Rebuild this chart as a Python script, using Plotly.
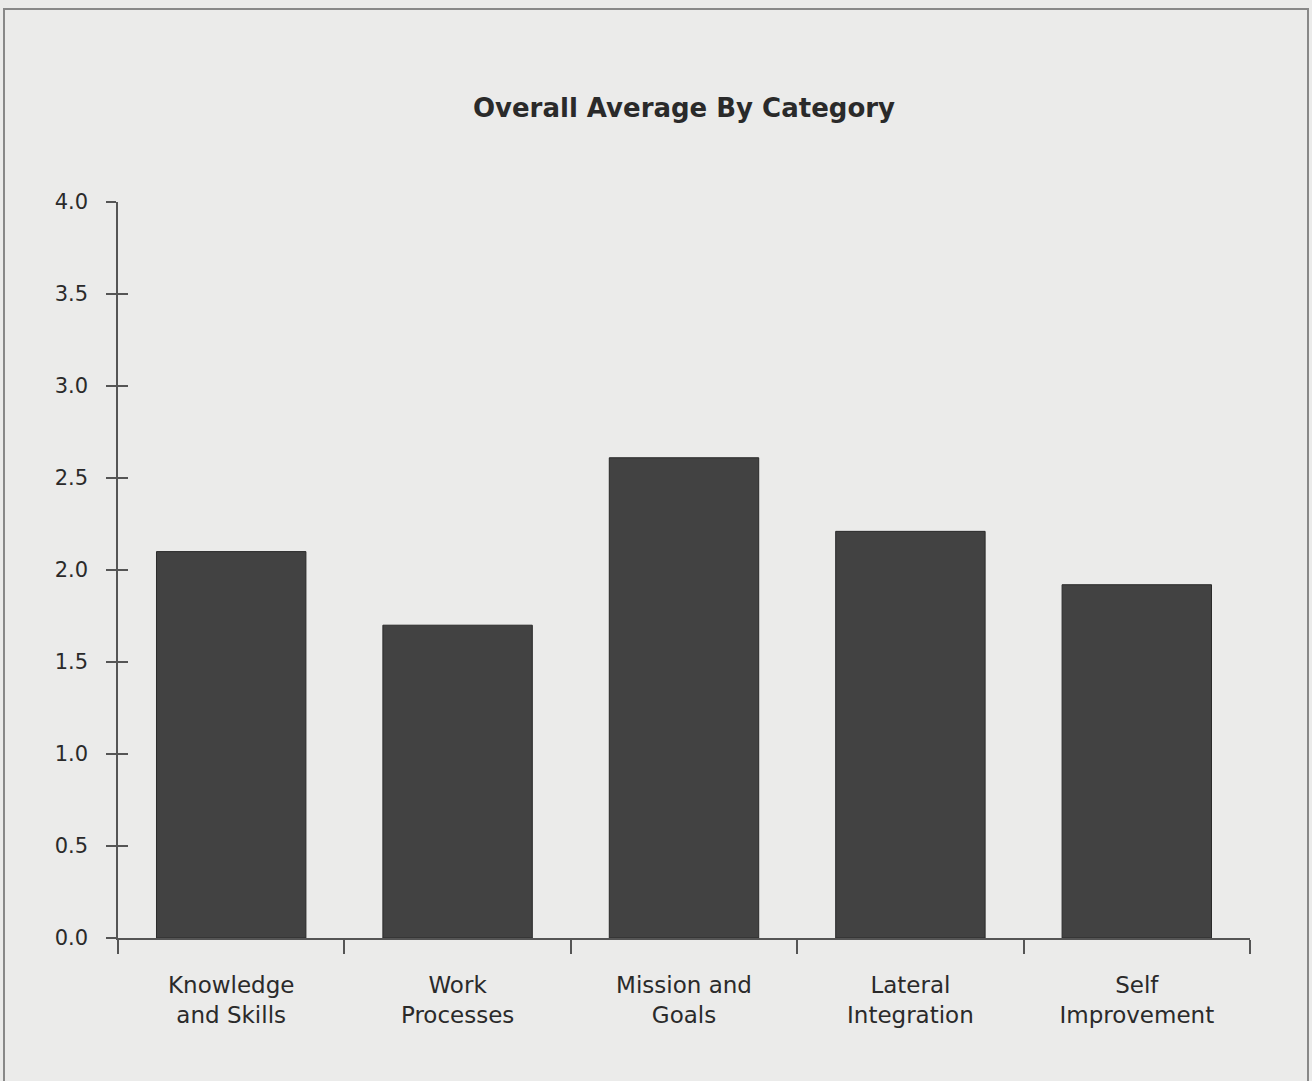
import plotly.graph_objects as go

categories = ["Knowledge<br>and Skills", "Work<br>Processes", "Mission and<br>Goals",
              "Lateral<br>Integration", "Self<br>Improvement"]
values = [2.10, 1.70, 2.61, 2.21, 1.92]
y_ticks = [0.0, 0.5, 1.0, 1.5, 2.0, 2.5, 3.0, 3.5, 4.0]
y_tick_labels = ["0.0", "0.5", "1.0", "1.5", "2.0", "2.5", "3.0", "3.5", "4.0"]

FONT = "DejaVu Sans, Liberation Sans, Arial, sans-serif"
BG = "#ebebea"
INK = "#2a2a2a"

fig = go.Figure()
fig.add_trace(go.Bar(
    x=categories, y=values,
    marker=dict(color="#424242", line=dict(color="#2a2a2a", width=1)),
    width=0.66,
))

fig.update_layout(
    width=1312, height=1081,
    margin=dict(l=118, r=62, t=202, b=143),
    paper_bgcolor=BG, plot_bgcolor=BG,
    showlegend=False,
    font=dict(family=FONT, color=INK),
    title=dict(text="<b>Overall Average By Category</b>", x=0.5, xref="paper",
               y=1 - 108 / 1081, yanchor="middle",
               font=dict(size=26, family=FONT, color=INK)),
    xaxis=dict(
        showline=True, linecolor="#555", linewidth=1.5,
        ticks="outside", ticklen=14, tickcolor="#555", tickwidth=1.5,
        tickson="boundaries", showgrid=False, zeroline=False,
        tickfont=dict(size=23, family=FONT, color=INK),
        ticklabelstandoff=26,
    ),
    yaxis=dict(
        range=[0, 4.0], tickvals=y_ticks, ticktext=y_tick_labels,
        showline=True, linecolor="#555", linewidth=1.5,
        ticks="outside", ticklen=10, tickcolor="#555", tickwidth=1.5,
        showgrid=False, zeroline=False,
        tickfont=dict(size=21, family=FONT, color=INK),
        ticklabelstandoff=14,
    ),
    yaxis2=dict(
        range=[0, 4.0], tickvals=y_ticks, overlaying="y", side="left",
        ticks="inside", ticklen=10, tickcolor="#555", tickwidth=1.5,
        showticklabels=False, showgrid=False, zeroline=False, showline=False,
    ),
)

fig.add_trace(go.Scatter(x=[categories[0]], y=[None], yaxis="y2", showlegend=False,
                         hoverinfo="skip"))

fig.add_shape(type="rect", xref="paper", yref="paper",
              x0=(4 - 118) / 1132, x1=(1308 - 118) / 1132,
              y0=(938 - 1090) / 736, y1=(938 - 9) / 736,
              line=dict(color="#888", width=2), fillcolor="rgba(0,0,0,0)", layer="below")

fig.write_html("out.html")
